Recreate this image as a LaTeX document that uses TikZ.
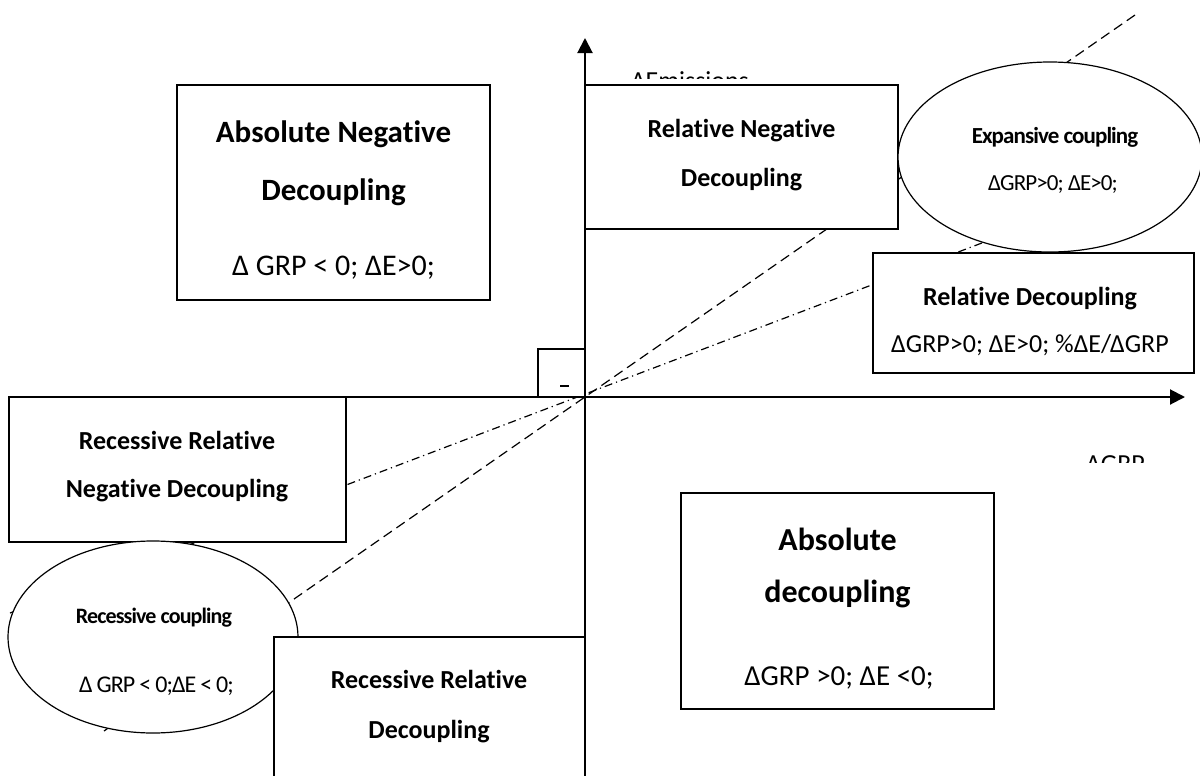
\documentclass[tikz,border=0pt]{standalone}
\usepackage{fontspec}
\setmainfont{Carlito}[Ligatures=NoCommon]
\newfontfamily\condfont[LetterSpace=-4,Ligatures=NoCommon]{Carlito}
\usetikzlibrary{arrows.meta,shapes.geometric}
\tikzset{
  boxshape/.style={draw, line width=0.85pt, fill=white, inner sep=0pt, outer sep=0pt},
  ellshape/.style={ellipse, draw, line width=0.6pt, fill=white, inner sep=0pt, outer sep=0pt},
  lbl/.style={anchor=base, inner sep=0pt, outer sep=0pt},
  bigb/.style={lbl, font=\fontsize{15.5}{17}\selectfont\bfseries},
  bigr/.style={lbl, font=\fontsize{15}{17}\selectfont},
  midb/.style={lbl, font=\fontsize{13}{15}\selectfont\bfseries},
  midr/.style={lbl, font=\fontsize{13}{15}\selectfont},
  condb/.style={lbl, font=\condfont\fontsize{11.5}{13}\selectfont\bfseries},
  condr/.style={lbl, font=\condfont\fontsize{11.5}{13}\selectfont},
  axisline/.style={line width=1pt, -{Triangle[length=7.5pt,width=7.5pt]}},
  dashline/.style={line width=0.6pt, dash pattern=on 5pt off 2.8pt},
  dashdotline/.style={line width=0.6pt, dash pattern=on 4pt off 2pt on 0.6pt off 2pt},
}
\begin{document}
\begin{tikzpicture}[x=0.5pt,y=-0.5pt]
\useasboundingbox (0,0) rectangle (1200,776);
\clip (0,0) rectangle (1200,776);

% reference lines (drawn first, boxes cover them)
\coordinate (dA) at (1135,15);
\coordinate (dB) at (104,731);
\coordinate (ddA) at (10,613);
\coordinate (ddB) at (1150,179);
\draw[dashline] (dA) -- (dB);
\draw[dashdotline] (ddA) -- (ddB);

% clipped axis labels
\begin{scope}
  \clip (600,60) rectangle (780,78);
  \node[midr] (emis) at (690,89) {ΔEmissions};
\end{scope}
\begin{scope}
  \clip (1060,440) rectangle (1170,462);
  \node[midr] (grp) at (1115.5,472) {ΔGRP};
\end{scope}

% small square near origin
\node[boxshape, minimum width=23.5pt, minimum height=24pt] (sq) at (561.5,373) {};
\coordinate (mA) at (560,386);
\coordinate (mB) at (569,386);
\draw[line width=0.7pt] (mA) -- (mB);

% Absolute Negative Decoupling
\node[boxshape, minimum width=156.5pt, minimum height=107.5pt] (and) at (333.5,192.5) {};
\node[bigb] (and1) at (333.5,142) {Absolute Negative};
\node[bigb] (and2) at (333.5,200) {Decoupling};
\node[bigr] (and3) at (333.5,275) {Δ GRP < 0; ΔE>0;};

% Relative Negative Decoupling
\node[boxshape, minimum width=156.5pt, minimum height=72pt] (rnd) at (741.5,157) {};
\node[midb] (rnd1) at (741.5,137) {Relative Negative};
\node[midb] (rnd2) at (741.5,186) {Decoupling};

% Expansive coupling
\node[ellshape, minimum width=152pt, minimum height=95pt] (exp) at (1050,157) {};
\node[condb] (exp1) at (1055,143) {Expansive coupling};
\node[condr] (exp2) at (1053,190) {ΔGRP>0; ΔE>0;};

% Relative Decoupling
\node[boxshape, minimum width=160.5pt, minimum height=60pt] (rd) at (1033.5,313) {};
\node[midb] (rd1) at (1030,305) {Relative Decoupling};
\node[midr] (rd2) at (1030,352) {ΔGRP>0; ΔE>0; \%ΔE/ΔGRP};

% Recessive Relative Negative Decoupling
\node[boxshape, minimum width=168.5pt, minimum height=72.5pt] (rrnd) at (177.5,469.5) {};
\node[midb] (rrnd1) at (177,449) {Recessive Relative};
\node[midb] (rrnd2) at (177,497) {Negative Decoupling};

% Recessive coupling
\node[ellshape, minimum width=145pt, minimum height=96pt] (rc) at (153,637) {};
\node[condb, font=\condfont\fontsize{11}{13}\selectfont\bfseries] (rc1) at (154,623) {Recessive coupling};
\node[condr, font=\condfont\fontsize{12}{14}\selectfont] (rc2) at (156.5,692) {Δ\,GRP\,<\,0;ΔE\,<\,0;};

% Recessive Relative Decoupling
\node[boxshape, minimum width=155.5pt, minimum height=85pt] (rrd) at (429.5,722) {};
\node[midb] (rrd1) at (429,688) {Recessive Relative};
\node[midb] (rrd2) at (429,738) {Decoupling};

% Absolute decoupling
\node[boxshape, minimum width=156.5pt, minimum height=108pt] (ad) at (837.5,601) {};
\node[bigb, font=\fontsize{16}{18}\selectfont\bfseries] (ad1) at (837.5,550) {Absolute};
\node[bigb, font=\fontsize{16}{18}\selectfont\bfseries] (ad2) at (837.5,602) {decoupling};
\node[bigr, font=\fontsize{14.5}{16}\selectfont] (ad3) at (839,685) {ΔGRP >0; ΔE <0;};

% axes
\coordinate (ybot) at (585,780);
\coordinate (ytip) at (585,38);
\coordinate (xbeg) at (57,397);
\coordinate (xtip) at (1185,397);
\draw[axisline] (ybot) -- (ytip);
\draw[axisline] (xbeg) -- (xtip);
\end{tikzpicture}
\end{document}
